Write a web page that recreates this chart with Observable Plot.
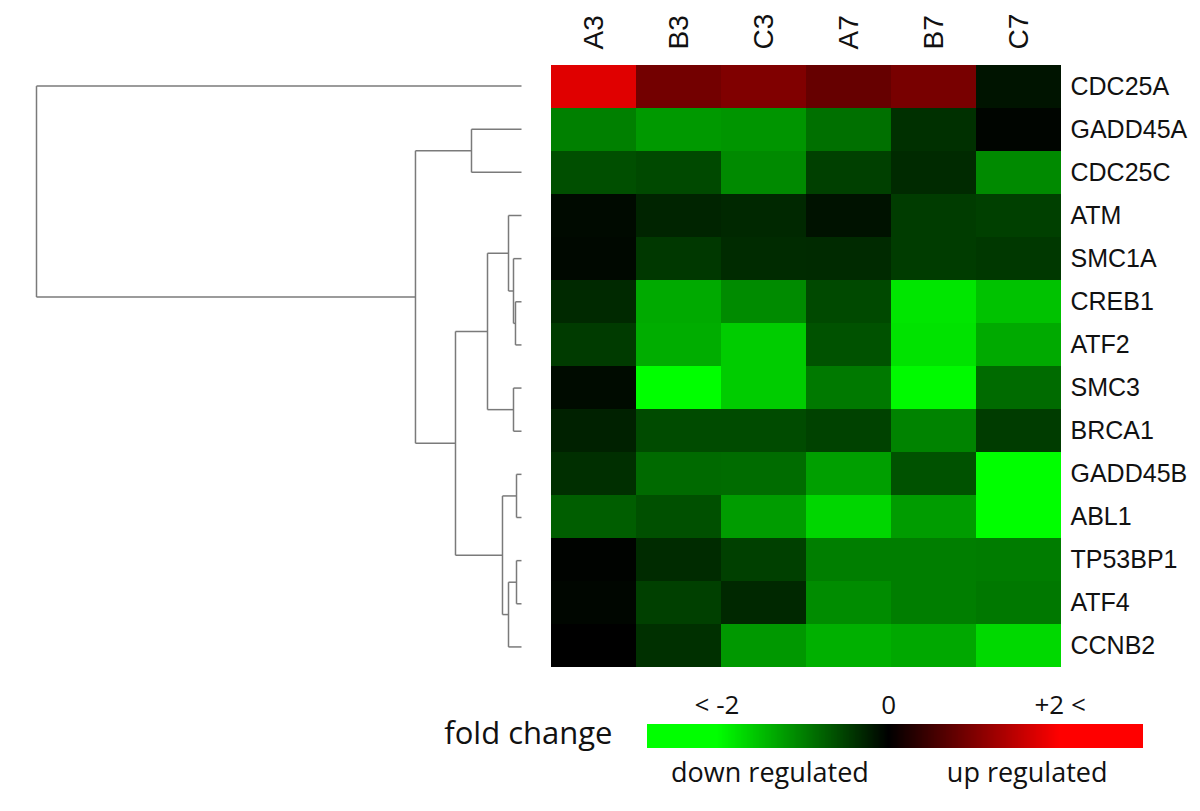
<!DOCTYPE html>
<html><head><meta charset="utf-8">
<script src="https://cdn.jsdelivr.net/npm/d3@7"></script>
<script src="https://cdn.jsdelivr.net/npm/@observablehq/plot@0.6"></script>
<style>
html,body{margin:0;padding:0;background:#fff;}
#chart{position:relative;width:1200px;height:811px;overflow:hidden;background:#fff;}
#chart > svg{position:absolute;left:0;}
</style></head><body><div id="chart"></div>
<script>
// ---- data ----
const samples = ["A3","B3","C3","A7","B7","C7"];
const genes = ["CDC25A","GADD45A","CDC25C","ATM","SMC1A","CREB1","ATF2","SMC3","BRCA1","GADD45B","ABL1","TP53BP1","ATF4","CCNB2"];
// log fold change per sample, in gene order
const A3 = [1.76,-1.00,-0.62,-0.08,-0.06,-0.32,-0.46,-0.09,-0.26,-0.37,-0.74,-0.02,-0.05,0.00];
const B3 = [0.90,-1.20,-0.57,-0.28,-0.44,-1.33,-1.36,-2.00,-0.59,-0.83,-0.63,-0.34,-0.50,-0.38];
const C3 = [1.00,-1.17,-1.08,-0.31,-0.34,-1.09,-1.60,-1.60,-0.59,-0.85,-1.22,-0.50,-0.31,-1.19];
const A7 = [0.80,-0.88,-0.50,-0.14,-0.33,-0.57,-0.64,-0.95,-0.52,-1.25,-1.68,-0.99,-1.10,-1.38];
const B7 = [0.94,-0.38,-0.33,-0.47,-0.47,-1.80,-1.78,-1.96,-1.03,-0.64,-1.22,-0.99,-0.99,-1.32];
const C7 = [-0.16,-0.04,-1.08,-0.50,-0.44,-1.52,-1.33,-0.84,-0.47,-2.00,-2.00,-0.97,-0.94,-1.70];
const seriesBySample = {A3, B3, C3, A7, B7, C7};

// hierarchical clustering (hclust style): negative = leaf (1-based gene index), positive = earlier merge
const mergeLeft  = [-10,-12,-6,-5,-8,-4, 2, 1, 6,-2, 9,10,-1];
const mergeRight = [-11,-13,-7, 3,-9, 4,-14, 7, 5,-3, 8,11,12];
const mergeHeight = [0.0103,0.0103,0.0124,0.0165,0.0165,0.0268,0.0268,0.0392,0.0701,0.1031,0.1361,0.2186,1.0];

// legend labels
const legendTicks = [-2, 0, 2];
const legendTickLabels = ["< -2", "0", "+2 <"];

// ---- tables ----
const cells = [];
samples.forEach(s => seriesBySample[s].forEach((v, i) => cells.push({sample: s, gene: genes[i], value: v})));

const nodeY = [], nodeH = [];
const child = k => k < 0 ? {y: -k - 1, h: 0} : {y: nodeY[k - 1], h: nodeH[k - 1]};
const segments = [];
mergeLeft.forEach((l, i) => {
  const a = child(l), b = child(mergeRight[i]), h = mergeHeight[i];
  segments.push({x1: a.h, y1: a.y, x2: h, y2: a.y});
  segments.push({x1: b.h, y1: b.y, x2: h, y2: b.y});
  segments.push({x1: h, y1: a.y, x2: h, y2: b.y});
  nodeY.push((a.y + b.y) / 2); nodeH.push(h);
});

const colorSpec = {type: "linear", domain: [-2, 0, 2], range: ["#00ff00", "#000000", "#ff0000"], clamp: true};
const font = "Liberation Sans, Arial, sans-serif";
const chart = document.getElementById("chart");

// ---- heatmap ----
const heat = Plot.plot({
  width: 1200, height: 680,
  marginLeft: 550, marginRight: 138, marginTop: 64, marginBottom: 12,
  style: {fontFamily: font, color: "#111", background: "transparent"},
  x: {domain: samples, padding: 0, label: null},
  y: {domain: genes, padding: 0, label: null},
  color: colorSpec,
  marks: [
    Plot.cell(cells, {x: "sample", y: "gene", fill: "value", inset: 0}),
    Plot.axisX({anchor: "top", tickRotate: -90, tickSize: 0, tickPadding: 15, fontSize: 28, label: null}),
    Plot.axisY({anchor: "right", tickSize: 0, tickPadding: 8, fontSize: 25, label: null})
  ]
});
heat.style.top = "0px";
chart.appendChild(heat);

// ---- dendrogram ----
const dendro = Plot.plot({
  width: 1200, height: 680,
  marginLeft: 0, marginRight: 0, marginTop: 0, marginBottom: 0,
  style: {background: "transparent"},
  x: {domain: [1, 0], range: [36, 521], axis: null},
  y: {domain: [-0.5, 13.5], range: [64, 668], axis: null},
  marks: [
    Plot.link(segments, {x1: "x1", y1: "y1", x2: "x2", y2: "y2", stroke: "#7a7a7a", strokeWidth: 1.5})
  ]
});
dendro.style.top = "0px";
chart.appendChild(dendro);

// ---- legend ----
const ramp = d3.range(-2.81, 2.96, 0.01).map(v => ({v}));
const legend = Plot.plot({
  width: 1200, height: 131,
  marginLeft: 0, marginRight: 0, marginTop: 0, marginBottom: 0,
  style: {fontFamily: "Open Sans, Noto Sans, sans-serif", color: "#111", background: "transparent"},
  x: {domain: [-2.81, 2.96], range: [647, 1142], axis: null},
  y: {domain: [0, 1], range: [68, 44], axis: null},
  color: colorSpec,
  marks: [
    Plot.rect(ramp, {x1: "v", x2: d => d.v + 0.02, y1: 0, y2: 1, fill: "v", shapeRendering: "crispEdges"}),
    Plot.text(legendTicks, {x: d => d, y: 1, text: (d, i) => legendTickLabels[i], dy: -19, fontSize: 26, fill: "#111"}),
    Plot.text(["fold change"], {x: -2.81, y: 0.5, dx: -35, dy: -2, textAnchor: "end", fontSize: 31, fill: "#111"}),
    Plot.text(["down regulated"], {x: -2, y: 0, dx: 53, dy: 25, fontSize: 27, fill: "#111"}),
    Plot.text(["up regulated"], {x: 2, y: 0, dx: -33, dy: 25, fontSize: 27, fill: "#111"})
  ]
});
legend.style.top = "680px";
chart.appendChild(legend);
</script>
</body></html>
